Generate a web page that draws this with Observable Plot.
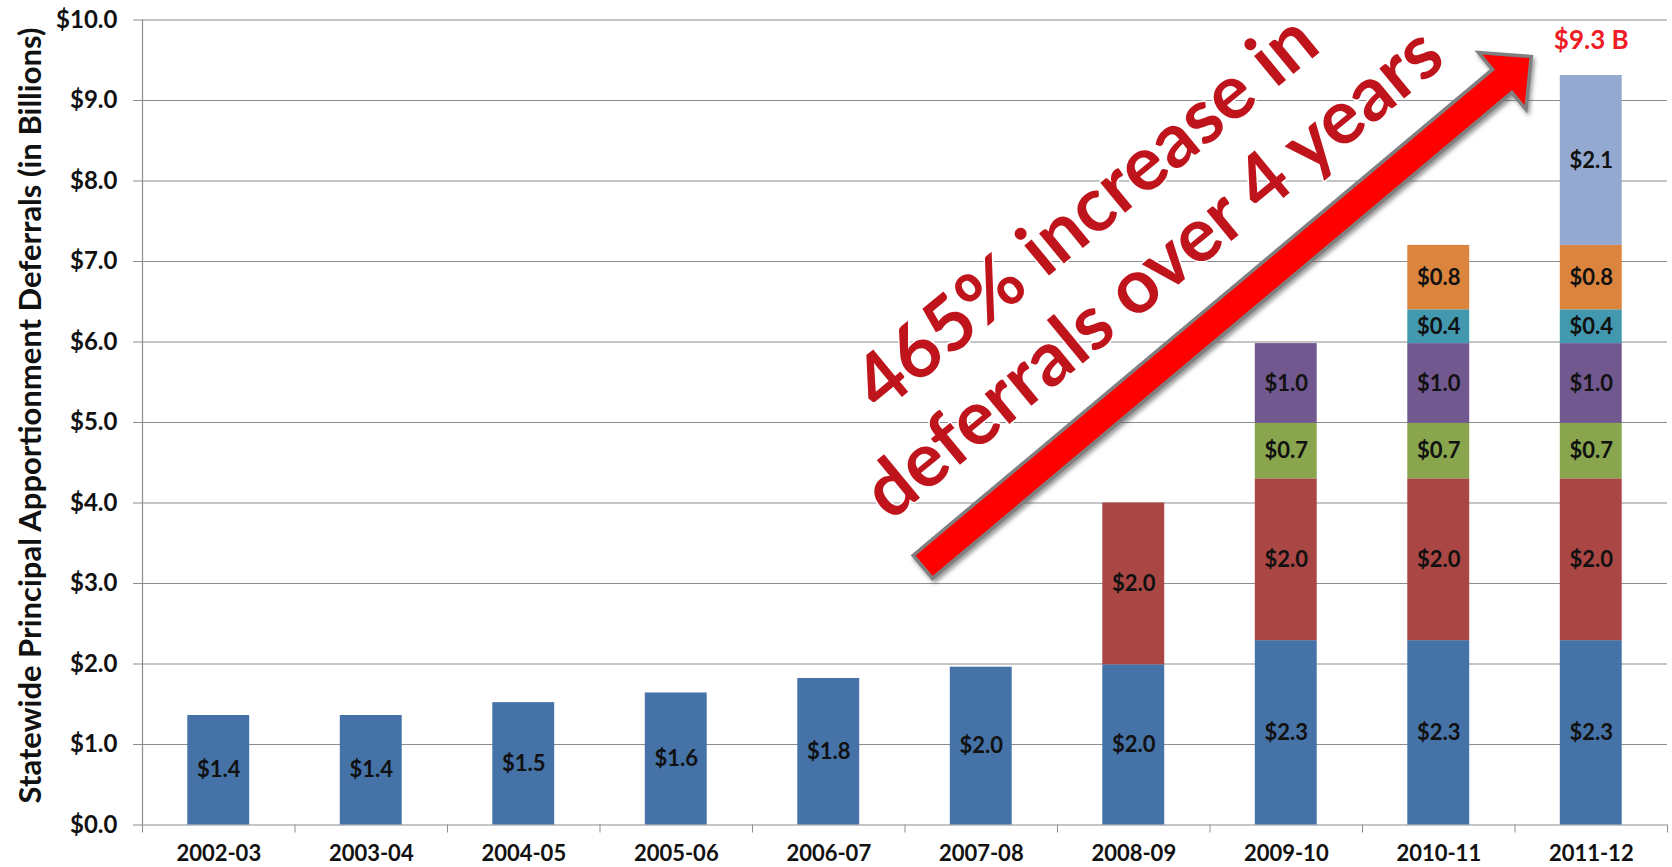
<!DOCTYPE html>
<html>
<head>
<meta charset="utf-8">
<script src="https://cdn.jsdelivr.net/npm/d3@7"></script>
<script src="https://cdn.jsdelivr.net/npm/@observablehq/plot@0.6"></script>
<style>
  html, body { margin: 0; padding: 0; background: #fff; }
  #chart svg { display: block; }
</style>
</head>
<body>
<div id="chart"></div>
<script>
// ---- data ----
const years = ["2002-03", "2003-04", "2004-05", "2005-06", "2006-07", "2007-08", "2008-09", "2009-10", "2010-11", "2011-12"];
const seriesNames = ["Series 1", "Series 2", "Series 3", "Series 4", "Series 5", "Series 6", "Series 7"];
const series1 = [1.36, 1.36, 1.52, 1.64, 1.82, 1.96, 1.99, 2.29, 2.29, 2.29];
const series2 = [null, null, null, null, null, null, 2.01, 2.01, 2.01, 2.01];
const series3 = [null, null, null, null, null, null, null, 0.69, 0.69, 0.69];
const series4 = [null, null, null, null, null, null, null, 0.99, 0.99, 0.99];
const series5 = [null, null, null, null, null, null, null, null, 0.42, 0.42];
const series6 = [null, null, null, null, null, null, null, null, 0.80, 0.80];
const series7 = [null, null, null, null, null, null, null, null, null, 2.11];
const yTicks = [0, 1, 2, 3, 4, 5, 6, 7, 8, 9, 10];
const yTitle = "Statewide Principal Apportionment Deferrals (in Billions)";
const headlines = ["465% increase in", "deferrals over 4 years"];

// ---- styles / annotation placement ----
const seriesColors = ["#4572A7", "#AA4643", "#89A54E", "#71588F", "#4198AF", "#DB843D", "#93A9CF"];
const gridColor = "#8c8c8c";
const font = "Lato, 'Open Sans', sans-serif";
const barHalf = 0.203;
const arrowFrom = {x: 4.62, y: 3.2};
const arrowTo = {x: 8.61, y: 9.54};
const headlinePos = [{x: 5.69, y: 7.60}, {x: 6.13, y: 6.85}];
const headlineAngle = -39.5;

// ---- build stacked table ----
const allSeries = [series1, series2, series3, series4, series5, series6, series7];
const stacked = [];
years.forEach((yr, i) => {
  let base = 0;
  allSeries.forEach((vals, s) => {
    const v = vals[i];
    if (v == null) return;
    stacked.push({year: yr, idx: i, series: seriesNames[s], value: v, y1: base, y2: base + v});
    base += v;
  });
});
const totals = years.map((yr, i) => ({idx: i, total: d3.sum(allSeries, s => s[i] || 0)}));
const lastTotal = [totals[totals.length - 1]];

function arrowMark(index, scales) {
  let sx = scales && scales.x, sy = scales && scales.y;
  if (typeof sx !== "function") {
    for (const a of arguments) {
      if (a && typeof a.x === "function" && typeof a.y === "function") { sx = a.x; sy = a.y; break; }
    }
  }
  const x0 = sx(arrowFrom.x), y0 = sy(arrowFrom.y), x1 = sx(arrowTo.x), y1 = sy(arrowTo.y);
  const dx = x1 - x0, dy = y1 - y0, len = Math.hypot(dx, dy);
  const ux = dx / len, uy = dy / len, nx = -uy, ny = ux;
  const w = 15, hw = 37, hl = 38;
  const bx = x1 - ux * hl, by = y1 - uy * hl;
  const pts = [
    [x0 + nx * w, y0 + ny * w], [bx + nx * w, by + ny * w], [bx + nx * hw, by + ny * hw],
    [x1, y1],
    [bx - nx * hw, by - ny * hw], [bx - nx * w, by - ny * w], [x0 - nx * w, y0 - ny * w]
  ];
  const g = d3.create("svg:g").attr("aria-label", "arrow");
  const defs = g.append("defs");
  const f = defs.append("filter").attr("id", "softshadow").attr("x", "-20%").attr("y", "-20%").attr("width", "140%").attr("height", "140%");
  f.append("feDropShadow").attr("dx", 2).attr("dy", 3).attr("stdDeviation", 2).attr("flood-color", "#555").attr("flood-opacity", 0.6);
  g.append("path")
    .attr("d", "M" + pts.map(p => p.join(",")).join("L") + "Z")
    .attr("fill", "#ff0000")
    .attr("stroke", "#7f7f7f")
    .attr("stroke-width", 3.5)
    .attr("stroke-linejoin", "miter")
    .attr("filter", "url(#softshadow)");
  return g.node();
}

const chart = Plot.plot({
  width: 1672,
  height: 867,
  marginTop: 19.5,
  marginBottom: 42.5,
  marginLeft: 142,
  marginRight: 5,
  style: {fontFamily: font, background: "#fff", color: "#000", overflow: "visible"},
  x: {type: "linear", domain: [-0.5, years.length - 0.5], axis: null},
  y: {domain: [0, 10], axis: null},
  color: {domain: seriesNames, range: seriesColors},
  marks: [
    Plot.ruleY(yTicks, {stroke: gridColor, strokeWidth: 1.2}),
    Plot.ruleX([-0.5], {stroke: gridColor, strokeWidth: 1.2}),
    Plot.axisY({ticks: yTicks, tickFormat: d => "$" + d.toFixed(1), tickSize: 9, tickPadding: 16, label: null,
      fontSize: 24, fontWeight: "bold", stroke: gridColor, fill: "#111"}),
    Plot.axisX({ticks: d3.range(years.length + 1).map(i => i - 0.5), tickSize: 8, tickFormat: () => "", label: null, stroke: gridColor}),
    Plot.axisX({ticks: d3.range(years.length), tickFormat: i => years[i], tickSize: 0, tickPadding: 20, label: null,
      fontSize: 22, fontWeight: "bold", fill: "#111"}),
    Plot.rect(stacked, {x1: d => d.idx - barHalf, x2: d => d.idx + barHalf, y1: "y1", y2: "y2", fill: "series"}),
    Plot.text(stacked, {x: "idx", y: d => (d.y1 + d.y2) / 2, text: d => "$" + d.value.toFixed(1),
      fontSize: 22, fontWeight: "bold", fill: "#111"}),
    Plot.text(lastTotal, {x: "idx", y: "total", dy: -35, text: d => "$" + d.total.toFixed(1) + " B",
      fontSize: 26, fontWeight: "bold", fill: "#ee1c24"}),
    arrowMark,
    Plot.text(headlines, {x: (d, i) => headlinePos[i].x, y: (d, i) => headlinePos[i].y, text: d => d,
      rotate: headlineAngle, fontSize: 76, fontWeight: "bold", fill: "#bf141c", stroke: "#ffffff",
      strokeWidth: 3, paintOrder: "stroke", ariaLabel: "headline"}),
    Plot.text([yTitle], {frameAnchor: "left", textAnchor: "middle", dx: -111, dy: -7, rotate: -90, text: d => d,
      fontSize: 31, fontWeight: "bold", fill: "#111"})
  ]
});
document.getElementById("chart").appendChild(chart);
d3.select(chart).selectAll('g[aria-label="headline"]').attr("filter", "url(#softshadow)");
</script>
</body>
</html>
